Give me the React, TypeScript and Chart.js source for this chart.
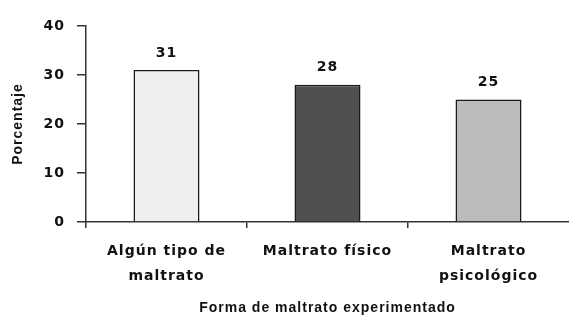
import React, { useEffect, useRef } from "react";
import { Chart, registerables } from "chart.js";

Chart.register(...registerables);

const categories: string[][] = [["Algún tipo de", "maltrato"], ["Maltrato físico"], ["Maltrato", "psicológico"]];
const values: number[] = [31, 28, 25];
const barColors: string[] = ["#efefef", "#505050", "#bcbcbc"];
const yTicks: number[] = [0, 10, 20, 30, 40];
const yTitle = "Porcentaje";
const xTitle = "Forma de maltrato experimentado";

const FONT = "'Liberation Sans', Arial, sans-serif";
const WIDE = "'DejaVu Sans', Verdana, sans-serif";

export default function App() {
  const ref = useRef<HTMLCanvasElement | null>(null);
  useEffect(() => {
    document.body.style.margin = "0";
    const canvas = ref.current;
    if (!canvas) return;
    const valueLabels = {
      id: "valueLabels",
      afterDatasetsDraw(chart: any) {
        const ctx = chart.ctx;
        const meta = chart.getDatasetMeta(0);
        ctx.save();
        ctx.font = `bold 14px ${WIDE}`;
        ctx.fillStyle = "#111";
        ctx.textAlign = "center";
        ctx.textBaseline = "middle";
        meta.data.forEach((bar: any, i: number) => {
          ctx.fillText(String(values[i]), bar.x, bar.y - 17);
        });
        ctx.restore();
      },
    };
    const spacing = {
      id: "spacing",
      beforeDraw(chart: any) {
        (chart.ctx as any).letterSpacing = "1px";
      },
    };
    const chart = new Chart(canvas, {
      type: "bar",
      data: {
        labels: categories,
        datasets: [
          {
            data: values,
            backgroundColor: barColors,
            borderColor: "#1a1a1a",
            borderWidth: 1.5,
            barPercentage: 0.41,
            categoryPercentage: 1,
          },
        ],
      },
      options: {
        responsive: false,
        animation: false,
        layout: { padding: { top: 26, right: 0, left: 0, bottom: 0 } },
        plugins: { legend: { display: false }, tooltip: { enabled: false } },
        scales: {
          x: {
            offset: true,
            grid: {
              drawOnChartArea: false,
              drawTicks: true,
              tickLength: 6,
              color: (c: any) => (c.type === "tick" ? "#333" : "rgba(0,0,0,0)"),
              offset: true,
              lineWidth: 1.5,
            },
            border: { display: true, color: "#333", width: 1.5 },
            ticks: { color: "#111", font: { family: WIDE, size: 14, weight: "bold", lineHeight: 1.8 }, padding: 11, maxRotation: 0, autoSkip: false },
            title: { display: true, text: xTitle, color: "#111", font: { family: FONT, size: 14, weight: "bold" }, padding: { top: 0, bottom: 1 } },
            afterFit(scale: any) {
              scale.height = 96;
            },
          },
          y: {
            min: 0,
            max: 40,
            afterBuildTicks(scale: any) {
              scale.ticks = yTicks.map((v) => ({ value: v }));
            },
            grid: { drawOnChartArea: false, drawTicks: true, tickLength: 9, color: "#333", lineWidth: 1.5 },
            border: { display: true, color: "#333", width: 1.5 },
            ticks: { color: "#111", font: { family: WIDE, size: 14, weight: "bold" }, padding: 12 },
            title: { display: true, text: yTitle, color: "#111", font: { family: FONT, size: 14, weight: "bold" }, padding: { top: 10, bottom: 0 } },
            afterFit(scale: any) {
              scale.width = 86;
            },
          },
        },
      },
      plugins: [valueLabels, spacing],
    } as any);
    return () => chart.destroy();
  }, []);
  return <canvas ref={ref} width={569} height={318} style={{ display: "block", width: 569, height: 318 }} />;
}
